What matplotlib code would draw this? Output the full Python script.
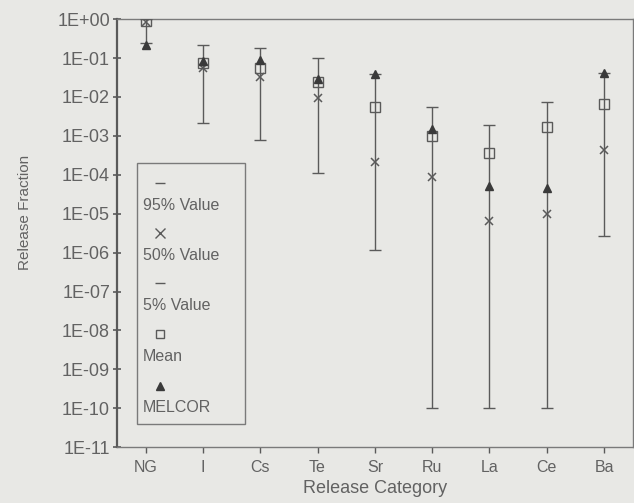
import matplotlib.pyplot as plt
from matplotlib.patches import Rectangle
import numpy as np

# release categories and fractions
cats = ["NG", "I", "Cs", "Te", "Sr", "Ru", "La", "Ce", "Ba"]
p95 = [1.0, 0.21, 0.18, 0.10, 0.04, 5.5e-3, 1.9e-3, 7.6e-3, 0.042]
p50 = [0.82, 0.055, 0.033, 9.3e-3, 2.1e-4, 9.0e-5, 6.3e-6, 9.8e-6, 4.4e-4]
p5 = [0.25, 2.2e-3, 8.0e-4, 1.1e-4, 1.2e-6, 1e-10, 1e-10, 1e-10, 2.7e-6]
mean = [0.9, 0.075, 0.055, 0.024, 5.6e-3, 1.0e-3, 3.7e-4, 1.7e-3, 6.5e-3]
melcor = [0.21, 0.085, 0.09, 0.029, 0.039, 1.5e-3, 5.2e-5, 4.6e-5, 0.042]

bg = '#e8e8e5'
ink = '#5a5a5a'
txt = '#626262'

plt.rc('font', family='Liberation Sans')

fig = plt.figure(figsize=(6.34, 5.03), dpi=100, facecolor=bg)
ax = fig.add_axes([0.1845, 0.111, 0.8135, 0.851], facecolor=bg)

x = np.arange(len(cats))

# vertical range bars with small caps
ax.vlines(x, p5, p95, color=ink, lw=1.0, zorder=2)
ax.plot(x, p95, ls='', marker='_', ms=9, mew=1.0, color=ink, zorder=3)
ax.plot(x, p5, ls='', marker='_', ms=9, mew=1.0, color=ink, zorder=3)
ax.plot(x, p50, ls='', marker='x', ms=6, mew=1.1, color=ink, zorder=4)
ax.plot(x, mean, ls='', marker='s', ms=7, mew=1.0, mfc='none', mec=ink, zorder=4)
ax.plot(x, melcor, ls='', marker='^', ms=6, color='#3a3a3a', zorder=5)

ax.set_yscale('log')
ax.set_ylim(1e-11, 1e0)
ax.set_xlim(-0.5, 8.5)

ax.set_yticks([10.0**k for k in range(-11, 1)])
ax.set_yticklabels(["1E-11", "1E-10", "1E-09", "1E-08", "1E-07", "1E-06",
                    "1E-05", "1E-04", "1E-03", "1E-02", "1E-01", "1E+00"])
ax.set_xticks(x)
ax.set_xticklabels(cats)

ax.tick_params(axis='y', which='major', direction='inout', length=6, width=1.2,
               colors=ink, labelcolor=txt, labelsize=13, pad=2)
ax.tick_params(axis='y', which='minor', direction='in', length=3, width=0.8, colors=ink)
ax.tick_params(axis='x', which='major', direction='out', length=4, width=1.0,
               colors=ink, labelcolor=txt, labelsize=11.5, pad=5)

for s in ax.spines.values():
    s.set_color('#7a7a7a')
    s.set_linewidth(1.0)
ax.spines['left'].set_linewidth(1.6)
ax.spines['left'].set_color(ink)
ax.spines['top'].set_linestyle((0, (4, 1)))

ax.set_xlabel("Release Category", fontsize=13, color=txt)
ax.xaxis.set_label_coords(0.5, -0.077)
ax.set_ylabel("Release Fraction", fontsize=11, color=txt)
ax.yaxis.set_label_coords(-0.165, 0.549)

# legend box drawn by hand: symbol above its label
def ax_xy(px, py):
    return (px - 117) / 517, 1 - (py - 19) / 428

bx, by = ax_xy(137, 424)
box = Rectangle((bx, by), 108 / 517, (424 - 163) / 428,
                transform=ax.transAxes, fill=False, ec='#7a7a7a', lw=1.0, zorder=6)
ax.add_patch(box)

entries = [('_', '95% Value', 183, 205), ('x', '50% Value', 233, 255),
           ('_', '5% Value', 283, 305), ('s', 'Mean', 334, 356),
           ('^', 'MELCOR', 386, 407)]

for mk, lab, my, ty in entries:
    mx, myy = ax_xy(160, my)
    if mk == 's':
        ax.plot(mx, myy, marker='s', ms=6, mfc='none', mec=ink, transform=ax.transAxes,
                clip_on=False, zorder=7)
    elif mk == '^':
        ax.plot(mx, myy, marker='^', ms=6, color='#3a3a3a', transform=ax.transAxes,
                clip_on=False, zorder=7)
    else:
        ax.plot(mx, myy, marker=mk, ms=7, mew=1.0, color=ink, transform=ax.transAxes,
                clip_on=False, zorder=7)
    tx, tyy = ax_xy(143, ty)
    ax.text(tx, tyy, lab, transform=ax.transAxes, fontsize=11.5, color=txt,
            ha='left', va='center', zorder=7)

plt.savefig("out.png", dpi=100, facecolor=bg)
